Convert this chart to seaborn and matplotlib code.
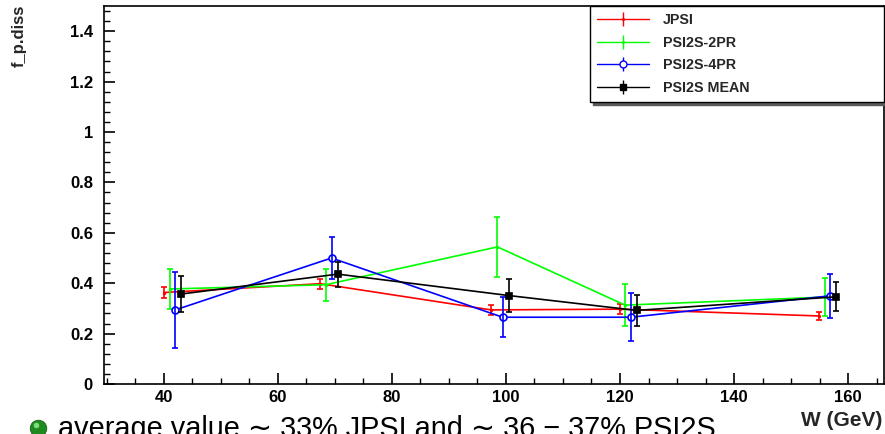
import numpy as np
import matplotlib
matplotlib.use("Agg")
import matplotlib.pyplot as plt
import seaborn as sns
import pandas as pd
from matplotlib.ticker import MultipleLocator, FuncFormatter
from matplotlib.lines import Line2D

# ---- data ----
labels = ["JPSI", "PSI2S-2PR", "PSI2S-4PR", "PSI2S MEAN"]

w_jpsi = [40.0, 67.4, 97.4, 120.0, 154.9]
f_jpsi = [0.363, 0.398, 0.294, 0.297, 0.270]
e_jpsi = [0.020, 0.020, 0.020, 0.020, 0.015]

w_2pr = [41.0, 68.4, 98.5, 120.9, 156.0]
f_2pr = [0.377, 0.394, 0.544, 0.313, 0.345]
e_2pr = [0.080, 0.064, 0.120, 0.082, 0.076]

w_4pr = [42.0, 69.4, 99.4, 121.9, 156.9]
f_4pr = [0.294, 0.500, 0.265, 0.265, 0.350]
e_4pr = [0.150, 0.083, 0.080, 0.096, 0.088]

w_mean = [43.0, 70.5, 100.5, 122.9, 157.9]
f_mean = [0.357, 0.436, 0.351, 0.292, 0.346]
e_mean = [0.073, 0.050, 0.067, 0.063, 0.058]

x_ticks = [40, 60, 80, 100, 120, 140, 160]
y_ticks = [0, 0.2, 0.4, 0.6, 0.8, 1.0, 1.2, 1.4]

sns.set_theme(style="white")
plt.rcParams['font.family'] = ['Liberation Sans', 'DejaVu Sans']

fig = plt.figure(figsize=(8.85, 4.34), dpi=100)
ax = fig.add_axes([104 / 885, 1 - 384 / 434, 780 / 885, 378 / 434])

styles = [
    dict(color="#ff0000", marker='.', ms=2.5, mfc="#ff0000"),
    dict(color="#00ff00", marker='.', ms=2.5, mfc="#00ff00"),
    dict(color="#0000ff", marker='o', ms=5, mfc="white"),
    dict(color="black", marker='s', ms=4.5, mfc="black"),
]
data = [(w_jpsi, f_jpsi, e_jpsi), (w_2pr, f_2pr, e_2pr),
        (w_4pr, f_4pr, e_4pr), (w_mean, f_mean, e_mean)]

handles = []
for lab, (w, f, e), st in zip(labels, data, styles):
    df = pd.DataFrame({"W": w, "f": f})
    c = st["color"]
    sns.lineplot(data=df, x="W", y="f", ax=ax, color=c, lw=1.2, legend=False,
                 sort=False, marker=st["marker"], markersize=st["ms"],
                 markerfacecolor=st["mfc"], markeredgecolor=c,
                 markeredgewidth=1.2, zorder=3)
    ax.errorbar(w, f, yerr=e, fmt='none', ecolor=c, elinewidth=1.2,
                capsize=2, capthick=1.2, zorder=3)
    h = ax.errorbar([np.nan], [np.nan], yerr=[0.1], fmt='-', color=c, lw=1.0,
                    marker=st["marker"], ms=st["ms"], mfc=st["mfc"], mec=c,
                    elinewidth=1.0, capsize=0, label=lab)
    handles.append(h)

ax.set_xlim(29.5, 166.3)
ax.set_ylim(0, 1.5)
ax.set_xticks(x_ticks)
ax.set_yticks(y_ticks)
ax.xaxis.set_minor_locator(MultipleLocator(5))
ax.yaxis.set_minor_locator(MultipleLocator(0.04))
ax.yaxis.set_major_formatter(FuncFormatter(lambda v, p: "%g" % round(v, 2)))
ax.tick_params(axis='both', which='both', direction='in', colors='black',
               bottom=True, left=True, top=False, right=False)
ax.tick_params(axis='both', which='major', length=8, width=1.2, labelsize=12)
ax.tick_params(axis='both', which='minor', length=4, width=1.0)
ax.tick_params(axis='x', pad=4.5)
ax.tick_params(axis='y', pad=8)
for t in ax.get_xticklabels() + ax.get_yticklabels():
    t.set_fontweight('bold')
for s in ax.spines.values():
    s.set_color('black')
    s.set_linewidth(1.2)
ax.set_xlabel("")
ax.set_ylabel("")
ax.grid(False)

leg = ax.legend(handles=handles, labels=labels, loc='upper left',
                bbox_to_anchor=(486 / 780, 0, 294 / 780, 1.0), mode='expand',
                borderaxespad=0, fancybox=False, framealpha=1, edgecolor='black',
                shadow={'ox': 2, 'oy': -2, 'color': '0.35', 'alpha': 1},
                prop={'weight': 'bold', 'size': 10.3}, handlelength=3.6,
                handletextpad=1.0, labelspacing=0.6, borderpad=0.5)
leg.get_frame().set_linewidth(1.0)

fig.text(19 / 885, 1 - 5 / 434, "f_p.diss", rotation=90, ha='center', va='top',
         fontsize=12, fontweight='bold')
fig.text(882 / 885, 1 - 421 / 434, "W (GeV)", ha='right', va='center',
         fontsize=15, fontweight='bold')

# slide overlay text (cut off at the bottom)
fig.add_artist(Line2D([38 / 885], [1 - 428 / 434], marker='o', ms=12,
                      mfc='#1f8a1f', mec='#0d5a0d', mew=0.5,
                      transform=fig.transFigure))
fig.add_artist(Line2D([36 / 885], [1 - 425 / 434], marker='o', ms=4,
                      mfc='#7fdc7f', mec='none', transform=fig.transFigure))
fig.text(58 / 885, 1 - 437 / 434,
         "average value \u223c 33% JPSI and \u223c 36 \u2212 37% PSI2S",
         ha='left', va='baseline', fontsize=20.8, color='black')

fig.savefig("out.png", dpi=100)
